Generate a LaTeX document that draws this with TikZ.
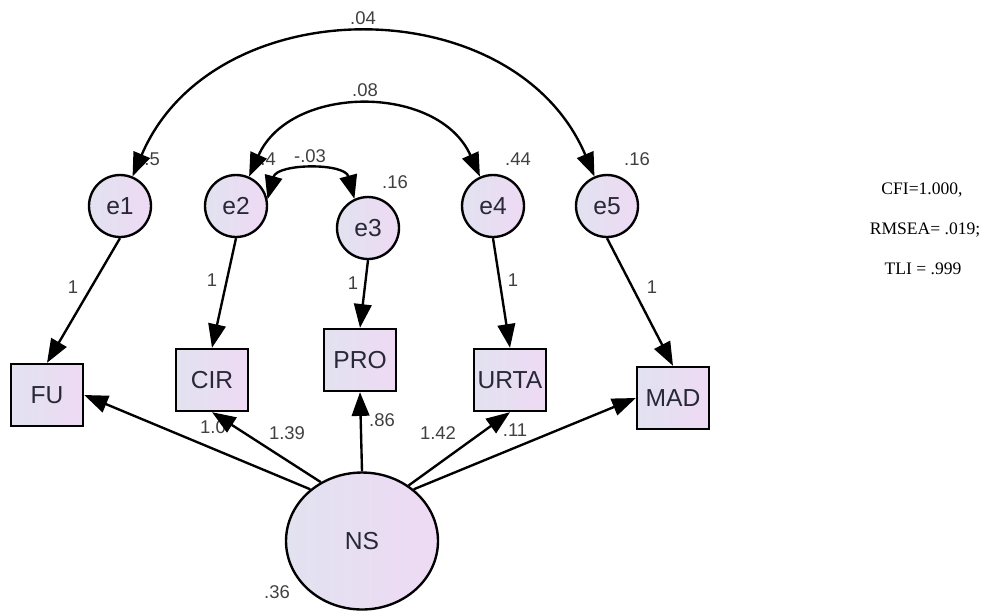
\documentclass[tikz,border=0pt]{standalone}
\usepackage{fontspec}
\setmainfont{Liberation Sans}
\newfontfamily\fitfont{Liberation Serif}
\usetikzlibrary{shapes.geometric,arrows.meta}
\definecolor{lowfill}{RGB}{226,226,240}
\definecolor{highfill}{RGB}{238,218,244}
\definecolor{ink}{RGB}{40,40,55}

\begin{document}
\begin{tikzpicture}[x=0.02cm, y=0.02cm, line width=1.35pt,
  >={Triangle[length=13.5pt,width=10pt]},
  err/.style = {draw, circle, minimum size=1.24cm, inner sep=0pt, left color=lowfill, right color=highfill, text=ink, font=\fontsize{14}{16}\selectfont},
  obs/.style = {draw, rectangle, minimum width=1.44cm, minimum height=1.24cm, inner sep=0pt, left color=lowfill, right color=highfill, text=ink, font=\fontsize{14}{16}\selectfont},
  lat/.style = {draw, ellipse, minimum width=3.04cm, minimum height=2.74cm, inner sep=0pt, left color=lowfill, right color=highfill, text=ink, font=\fontsize{14}{16}\selectfont},
  num/.style = {text=black!75, inner sep=0pt, font=\fontsize{10.5}{12}\selectfont},
  fit/.style = {inner sep=0pt, font=\fitfont\fontsize{10}{12}\selectfont}]
  \useasboundingbox (0,0) rectangle (999,-613);
  % Nodes
  \node[err] (e1) at (120,-206) {e1};
  \node[err] (e2) at (236,-206) {e2};
  \node[err] (e3) at (368,-228) {e3};
  \node[err] (e4) at (493,-206) {e4};
  \node[err] (e5) at (607,-206) {e5};
  \node[obs] (FU) at (47,-395) {FU};
  \node[obs] (CIR) at (212,-380) {CIR};
  \node[obs] (PRO) at (360,-360) {PRO};
  \node[obs] (URTA) at (510,-380) {URTA};
  \node[obs] (MAD) at (673,-398) {MAD};
  \node[lat] (NS) at (362,-541) {NS};
  % Labels
  \node[num] (v1) [anchor=east] at (161,-159) {.5};
  \node[num] (v2) [anchor=east] at (277,-159) {.4};
  \node[num] (v3) at (395,-182) {.16};
  \node[num] (v4) at (518,-159) {.44};
  \node[num] (v5) at (637,-159) {.16};
  \node[num] (v6) at (277,-592) {.36};
  \node[num] (c15) at (363,-18) {.04};
  \node[num] (c24) at (365,-90) {.08};
  \node[num] (c23) at (310,-156) {-.03};
  \node[num] (w1) at (73,-287) {1};
  \node[num] (w2) at (212,-280) {1};
  \node[num] (w3) at (353,-283) {1};
  \node[num] (w4) at (513,-280) {1};
  \node[num] (w5) at (652,-287) {1};
  \node[num] (b1) at (213,-427) {1.0};
  \node[num] (b2) at (287,-433) {1.39};
  \node[num] (b3) at (382,-420) {.86};
  \node[num] (b4) at (438,-433) {1.42};
  \node[num] (b5) at (515,-430) {.11};
  \node[fit] (cfi) at (922,-190) {CFI=1.000,};
  \node[fit] (rmsea) at (925,-230) {RMSEA= .019;};
  \node[fit] (tli) at (923,-269) {TLI = .999};
  % Edges
  \draw[->] (e1.south) -- (FU.north);
  \draw[->] (e2.south) -- (CIR.north);
  \draw[->] (e3.south) -- (PRO.north);
  \draw[->] (e4.south) -- (URTA.north);
  \draw[->] (e5.south) -- (MAD.north);
  \draw[->] (NS.135) -- (FU.east);
  \draw[->] (NS.125) -- (CIR.south);
  \draw[->] (NS.north) -- (PRO.south);
  \draw[->] (NS.50) -- (URTA.south);
  \draw[->] (NS.45) -- (MAD.west);
  % Covariances
  \draw[<->] (e1) to[out=67, in=113, looseness=1.14] (e5);
  \draw[<->] (e2) to[out=66, in=114, looseness=1.13] (e4);
  \draw[<->] (e2.12) to[out=75, in=105, looseness=1.1] (e3.115);
\end{tikzpicture}
\end{document}
